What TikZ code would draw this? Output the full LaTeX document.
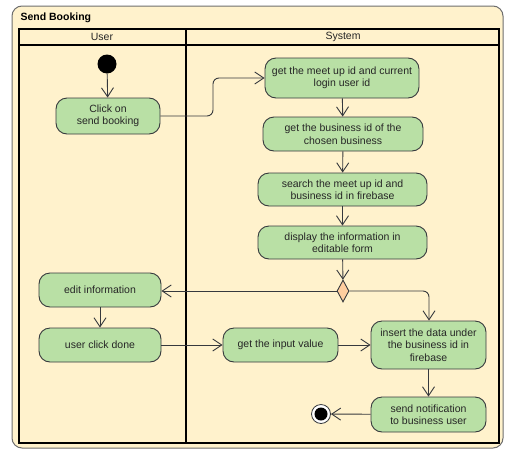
\documentclass[tikz,border=0pt]{standalone}
\usepackage{fontspec}
\setmainfont{Liberation Sans}
\usetikzlibrary{arrows.meta,shapes.geometric}
\definecolor{lanebg}{HTML}{FFF2CC}
\definecolor{actfill}{HTML}{B9E0A5}
\definecolor{actline}{HTML}{36393D}
\definecolor{decfill}{HTML}{FFCE9F}
\definecolor{framegray}{HTML}{6E6E6E}
\tikzset{
  act/.style={draw=actline, fill=actfill, line width=0.9pt, rounded corners=11pt,
    align=center, inner sep=0pt, font=\fontsize{10.5}{12.5}\selectfont, text=black!85},
  flow/.style={draw=actline, line width=0.9pt, -{Straight Barb[length=9pt,width=12pt,line width=0.9pt]}},
  lanehead/.style={font=\fontsize{10.5}{12}\selectfont, text=black!85}
}
\begin{document}
\begin{tikzpicture}[x=1pt,y=-1pt]
\useasboundingbox (0,0) rectangle (505,450);
% outer frame
\draw[draw=framegray, line width=1pt, fill=lanebg, rounded corners=10pt] (12,6) rectangle (503,448);
\node[anchor=west, font=\bfseries\fontsize{10.5}{12}\selectfont] (title) at (17,18) {Send Booking};
% swimlanes
\draw[line width=1.4pt] (19,29) rectangle (499,443);
\draw[line width=1.4pt] (19,45) -- (499,45);
\draw[line width=1.4pt] (186,29) -- (186,443);
\node[lanehead] (userlane) at (102,37) {User};
\node[lanehead] (syslane) at (343,37) {System};
% start / end
\node[circle, fill=black, minimum size=19pt, inner sep=0pt] (start) at (107,64) {};
\node[circle, draw=actline, fill=white, line width=0.8pt, minimum size=19pt, inner sep=0pt] (end) at (321,414) {};
\node[circle, fill=black, minimum size=13pt, inner sep=0pt] (endin) at (321,414) {};
% actions
\node[act, minimum width=104pt, minimum height=36pt] (click) at (108,116) {Click on\\send booking};
\node[act, minimum width=154pt, minimum height=40pt] (meet) at (342,78) {get the meet up id and current\\login user id};
\node[act, minimum width=160pt, minimum height=34pt] (bid) at (343,134) {get the business id of the\\chosen business};
\node[act, minimum width=169pt, minimum height=33pt] (search) at (342.5,189.5) {search the meet up id and\\business id in firebase};
\node[act, minimum width=169pt, minimum height=33pt] (display) at (342.5,242.5) {display the information in\\editable form};
\node[diamond, draw=actline, fill=decfill, line width=0.9pt, minimum width=12pt, minimum height=22pt, inner sep=0pt] (dec) at (343,291) {};
\node[act, minimum width=122pt, minimum height=34pt] (edit) at (100,290) {edit information};
\node[act, minimum width=122pt, minimum height=34pt] (done) at (100,345) {user click done};
\node[act, minimum width=115pt, minimum height=34pt] (input) at (280.5,345) {get the input value};
\node[act, minimum width=115pt, minimum height=48pt] (insert) at (428.5,345) {insert the data under\\the business id in\\firebase};
\node[act, minimum width=115pt, minimum height=35pt] (notify) at (428.5,414.5) {send notification\\to business user};
% flows
\draw[flow] (start) -- (click);
\draw[flow, rounded corners=6pt] (click.east) -- (213,116) -- (213,78) -- (meet.west);
\draw[flow] (meet) -- (bid);
\draw[flow] (bid) -- (search);
\draw[flow] (search) -- (display);
\draw[flow] (display) -- (dec);
\draw[flow] (dec.west) -- (edit.east |- dec.west);
\draw[flow, rounded corners=6pt] (dec.east) -- (429,291) -- (insert.north -| 429,0);
\draw[flow] (edit) -- (done);
\draw[flow] (done) -- (input);
\draw[flow] (input) -- (insert);
\draw[flow] (insert) -- (notify);
\draw[flow] (notify) -- (end);
\end{tikzpicture}
\end{document}
